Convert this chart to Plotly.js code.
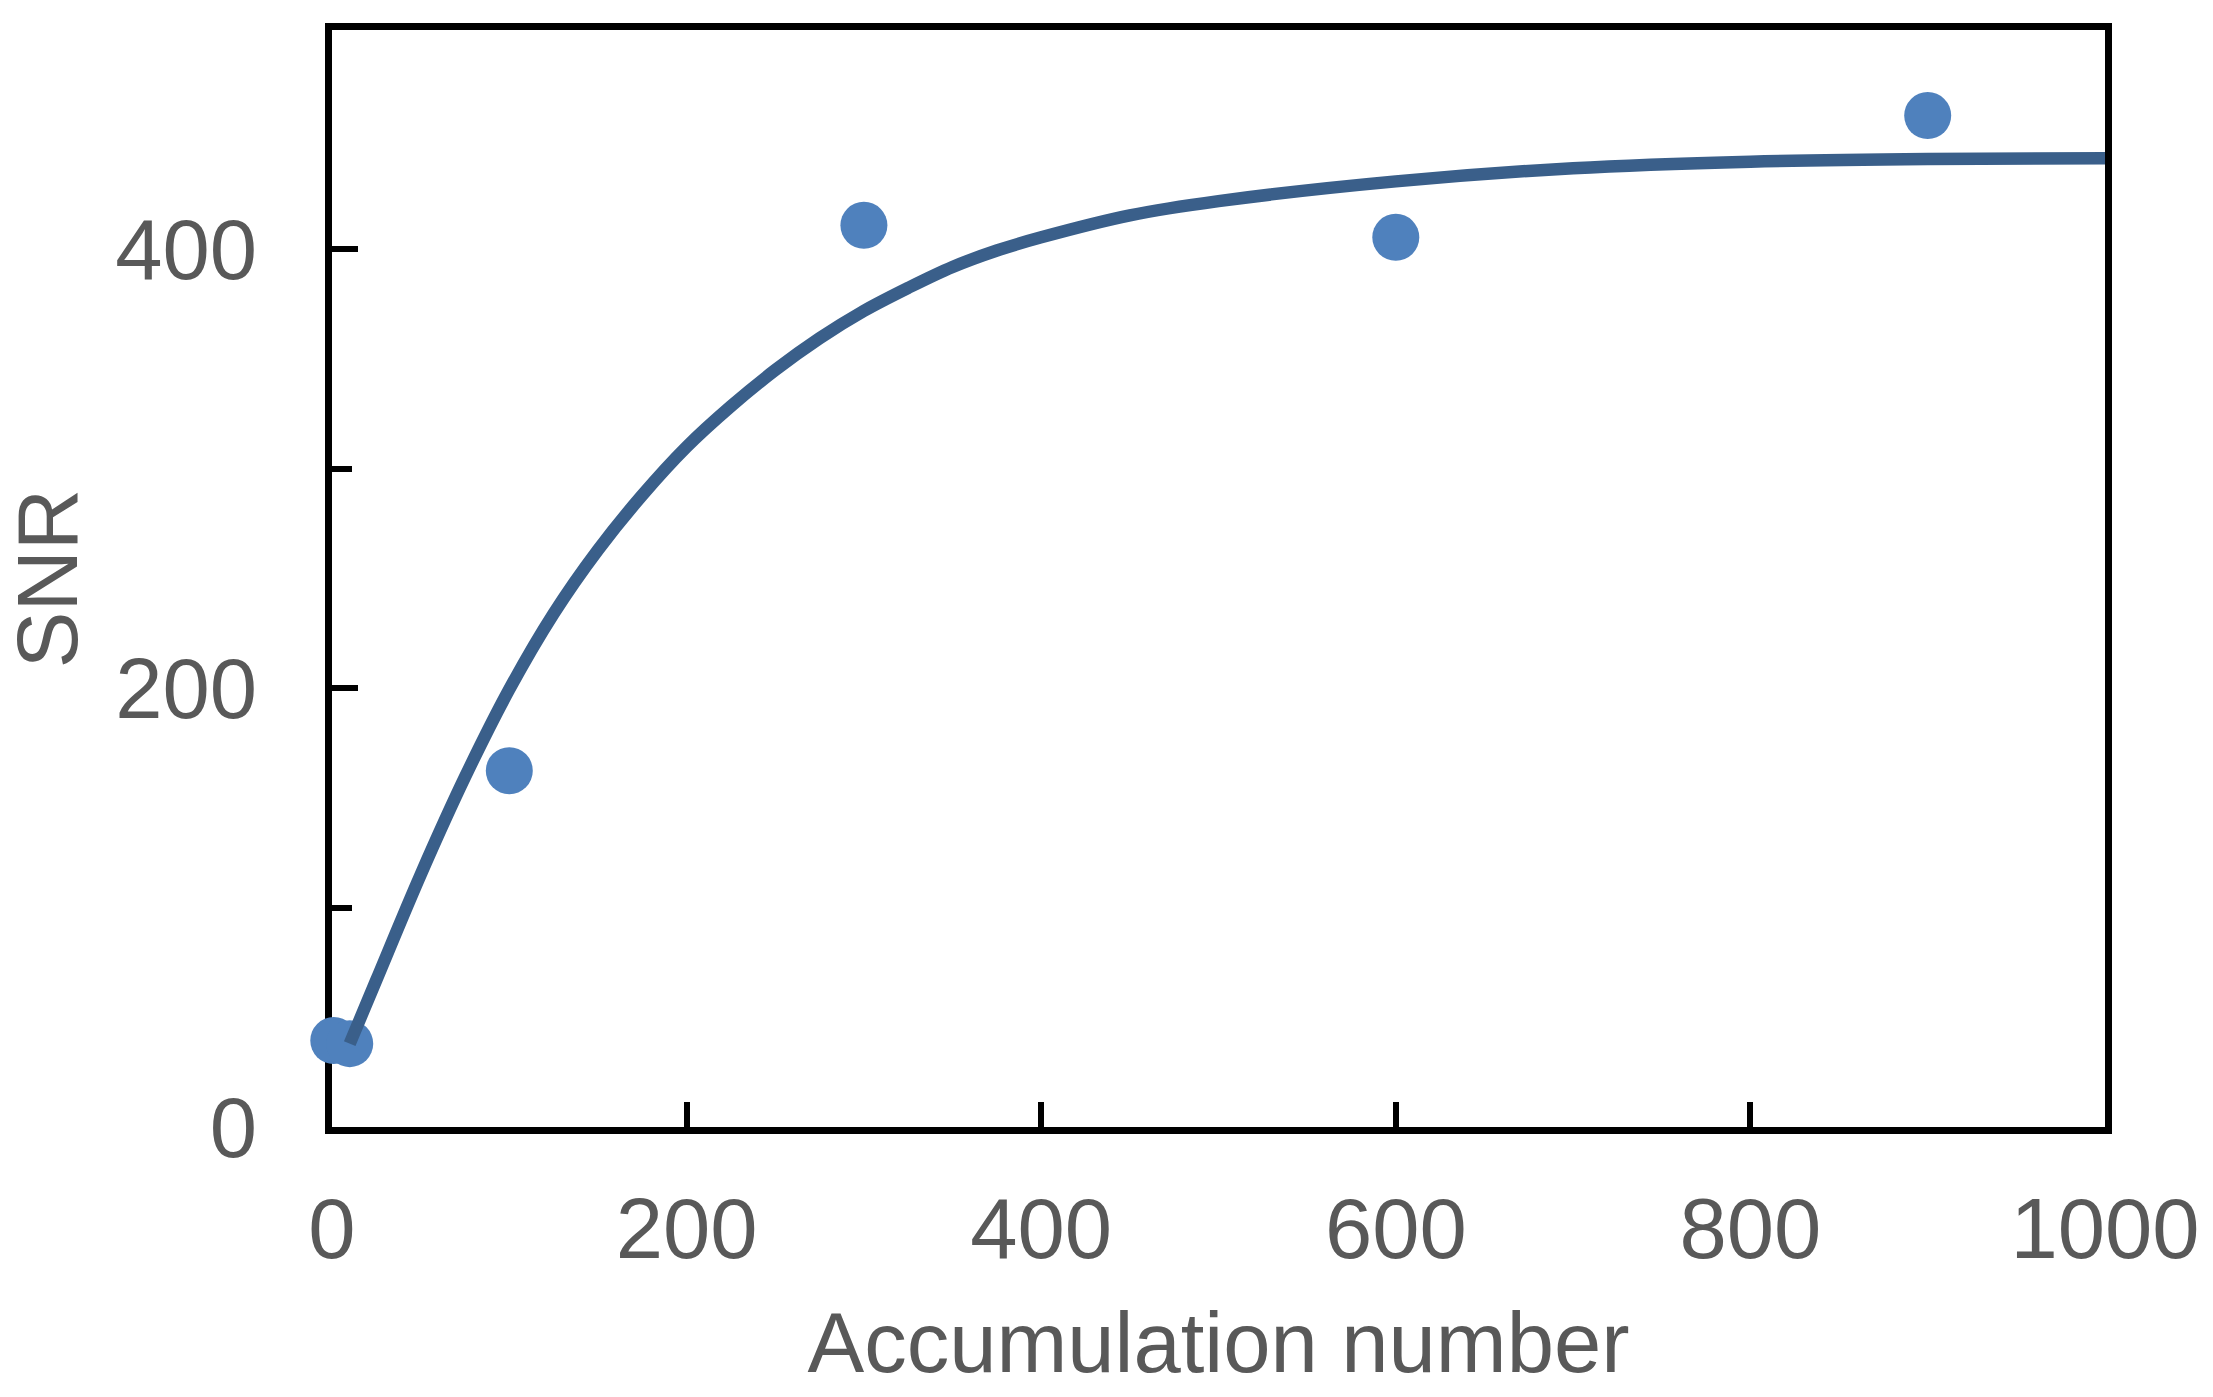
<!DOCTYPE html>
<html>
<head>
<meta charset="utf-8">
<script src="https://cdn.plot.ly/plotly-3.0.1.min.js"></script>
<style>html,body{margin:0;padding:0;background:#fff;}#chart{width:2213px;height:1397px;}</style>
</head>
<body>
<div id="chart"></div>
<script>
// Measured data points
const accumulation = [1, 10, 100, 300, 600, 900];
const snr = [39.4, 38.0, 162.4, 411.0, 405.5, 461.0];

// Fitted curve
const fitX = [10, 25, 50, 75, 100, 125, 150, 175, 200, 225, 250, 275, 300, 325, 350, 375, 400, 450, 500, 600, 700, 800, 900, 1000];
const fitY = [38, 67, 115, 159.5, 199.5, 234, 263, 288, 310, 328.5, 345, 359.5, 372, 382.5, 392, 399.5, 405.5, 415.5, 422, 431, 437, 440, 441.2, 441.5];

const xTickVals = [0, 200, 400, 600, 800, 1000];
const yTickVals = [0, 200, 400];
const yMinorTickVals = [100, 300];

const font = 'Liberation Sans, Arial, sans-serif';
const grey = '#595959';

const traces = [
  {
    x: accumulation, y: snr, type: 'scatter', mode: 'markers',
    marker: {size: 47, color: '#4F81BD'},
    cliponaxis: false, hoverinfo: 'skip'
  },
  {
    x: fitX, y: fitY, type: 'scatter', mode: 'lines',
    line: {color: '#3A5F8A', width: 12.5, shape: 'spline', smoothing: 1},
    cliponaxis: true, hoverinfo: 'skip'
  }
];

const layout = {
  width: 2213, height: 1397,
  margin: {l: 332, r: 108, t: 30, b: 270},
  paper_bgcolor: '#fff', plot_bgcolor: '#fff',
  showlegend: false,
  font: {family: font, color: grey, size: 85},
  xaxis: {
    range: [0, 1000], tickvals: xTickVals, ticktext: xTickVals.map(String),
    showgrid: false, zeroline: false,
    showline: true, linecolor: '#000', linewidth: 7, mirror: true,
    ticks: 'inside', ticklen: 25, tickwidth: 6, tickcolor: '#000',
    tickfont: {family: font, size: 85, color: grey},
    ticklabelstandoff: 22,
    layer: 'below traces',
    title: {text: 'Accumulation number', font: {family: font, size: 85, color: grey}, standoff: 40},
    automargin: false, fixedrange: true
  },
  yaxis: {
    range: [0, 500], tickvals: yTickVals, ticktext: yTickVals.map(String),
    showgrid: false, zeroline: false,
    showline: true, linecolor: '#000', linewidth: 7, mirror: true,
    ticks: 'inside', ticklen: 26, tickwidth: 6, tickcolor: '#000',
    minor: {tickvals: yMinorTickVals, ticks: 'inside', ticklen: 20, tickwidth: 6, tickcolor: '#000', showgrid: false},
    tickfont: {family: font, size: 85, color: grey},
    ticklabelstandoff: 51,
    layer: 'below traces',
    title: {text: 'SNR', font: {family: font, size: 85, color: grey}, standoff: 30},
    automargin: false, fixedrange: true
  }
};

Plotly.newPlot('chart', traces, layout, {staticPlot: true, displayModeBar: false});
</script>
</body>
</html>
